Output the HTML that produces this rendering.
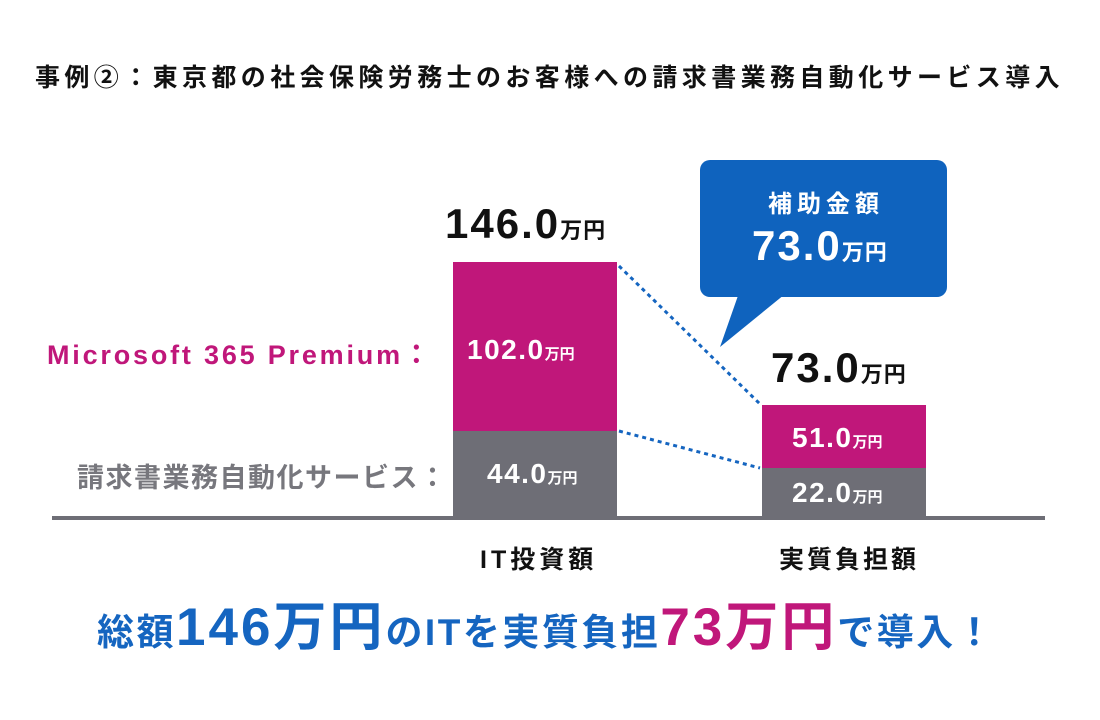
<!DOCTYPE html>
<html><head><meta charset="utf-8"><style>
body{margin:0;width:1100px;height:720px;background:#fff;position:relative;overflow:hidden;font-family:"Liberation Sans","Noto Sans CJK JP",sans-serif;font-weight:bold}
.a{position:absolute;white-space:nowrap}
</style></head><body>
<div class="a" style="left:35px;top:58px;font-size:25px;color:#111;letter-spacing:4.4px">事例②：東京都の社会保険労務士のお客様への請求書業務自動化サービス導入</div>

<svg class="a" style="left:0;top:0" width="1100" height="720">
<rect x="453" y="262" width="164" height="169" fill="#C0177A"/>
<rect x="453" y="431" width="164" height="87" fill="#6E6E76"/>
<rect x="762" y="405" width="164" height="63" fill="#C0177A"/>
<rect x="762" y="468" width="164" height="50" fill="#6E6E76"/>
<rect x="52" y="516" width="993" height="4" fill="#6E6E76"/>
<line x1="619" y1="266" x2="760" y2="404" stroke="#1565C0" stroke-width="3" stroke-dasharray="4,4"/>
<line x1="619" y1="431" x2="760" y2="468" stroke="#1565C0" stroke-width="3" stroke-dasharray="4,4"/>
<rect x="700" y="160" width="247" height="137" rx="10" fill="#0F63BE"/>
<polygon points="740,290 790,290 720,347" fill="#0F63BE"/>
</svg>

<div class="a" style="left:445px;top:200px;font-size:42px;color:#111;letter-spacing:2px">146.0<span style="font-size:22px;letter-spacing:1px">万円</span></div>
<div class="a" style="left:771px;top:344px;font-size:42px;color:#111;letter-spacing:2px">73.0<span style="font-size:22px;letter-spacing:1px">万円</span></div>
<div class="a" style="left:467px;top:334px;font-size:28px;color:#fff;letter-spacing:1.5px">102.0<span style="font-size:15px;letter-spacing:0">万円</span></div>
<div class="a" style="left:487px;top:458px;font-size:28px;color:#fff;letter-spacing:1.5px">44.0<span style="font-size:15px;letter-spacing:0">万円</span></div>
<div class="a" style="left:792px;top:422px;font-size:28px;color:#fff;letter-spacing:1.5px">51.0<span style="font-size:15px;letter-spacing:0">万円</span></div>
<div class="a" style="left:792px;top:477px;font-size:28px;color:#fff;letter-spacing:1.5px">22.0<span style="font-size:15px;letter-spacing:0">万円</span></div>

<div class="a" style="left:768px;top:184px;font-size:24px;color:#fff;letter-spacing:5px">補助金額</div>
<div class="a" style="left:752px;top:222px;font-size:42px;color:#fff;letter-spacing:2px">73.0<span style="font-size:22px;letter-spacing:1px">万円</span></div>

<div class="a" style="left:47px;top:333px;font-size:27px;color:#C0177A;letter-spacing:2.8px">Microsoft 365 Premium：</div>
<div class="a" style="left:77px;top:456px;font-size:27px;color:#77777d;letter-spacing:1.5px">請求書業務自動化サービス：</div>

<div class="a" style="left:480px;top:540px;font-size:25px;color:#111;letter-spacing:4px">IT投資額</div>
<div class="a" style="left:779px;top:540px;font-size:25px;color:#111;letter-spacing:3px">実質負担額</div>

<div class="a" style="left:97px;top:600px;font-size:37px;color:#1565C0;line-height:56px;letter-spacing:2.5px">総額<span style="font-size:53px;letter-spacing:3px">146万円</span>のITを実質負担<span style="font-size:53px;color:#C0177A;letter-spacing:3px">73万円</span>で導入！</div>
</body></html>
